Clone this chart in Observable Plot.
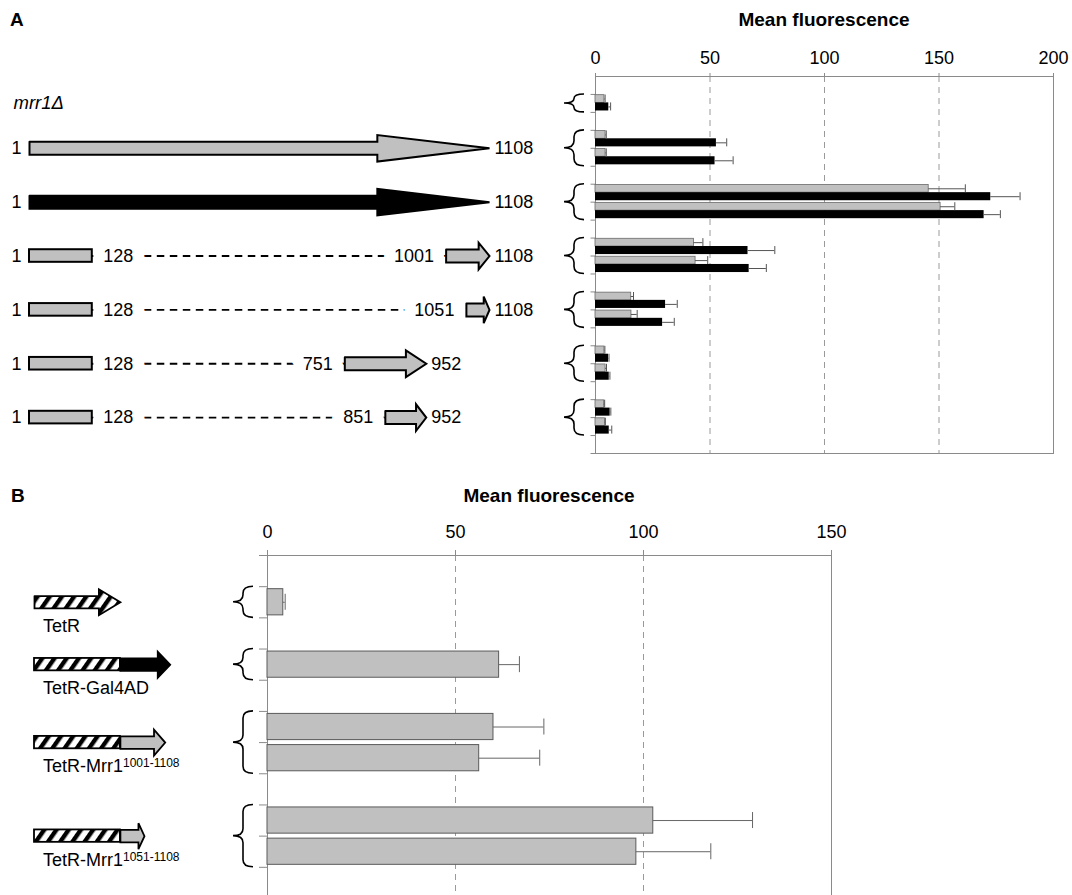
<!DOCTYPE html>
<html>
<head>
<meta charset="utf-8">
<script src="https://cdn.jsdelivr.net/npm/d3@7"></script>
<script src="https://cdn.jsdelivr.net/npm/@observablehq/plot@0.6"></script>
<style>
html, body { margin: 0; padding: 0; background: #fff; }
#fig { position: relative; width: 1072px; height: 895px; overflow: hidden; background: #fff;
  font-family: "Liberation Sans", Arial, Helvetica, sans-serif; }
#fig svg.layer { position: absolute; left: 0; top: 0; }
.lbl { position: absolute; font-weight: bold; font-size: 19px; line-height: 19px; color: #000; white-space: nowrap; }
</style>
</head>
<body>
<div id="fig">
  <svg width="0" height="0" style="position:absolute">
    <defs>
      <pattern id="hatch" patternUnits="userSpaceOnUse" width="10" height="10" patternTransform="rotate(35)">
        <rect width="10" height="10" fill="white"></rect>
        <rect x="0" y="0" width="4.4" height="10" fill="black"></rect>
      </pattern>
    </defs>
  </svg>
  <div class="lbl" style="left:10px;top:10px">A</div>
  <div class="lbl" style="left:595px;top:10px;width:458px;text-align:center">Mean fluorescence</div>
  <div class="lbl" style="left:11px;top:486px">B</div>
  <div class="lbl" style="left:267px;top:486px;width:564px;text-align:center">Mean fluorescence</div>
</div>
<script>
const FONT = '"Liberation Sans", Arial, Helvetica, sans-serif';
const GRAY = "#c0c0c0";

// ================= Panel A data =================
const constructsA = ["mrr1Δ", "Mrr1 1-1108 (grey)", "Mrr1 1-1108 (black)", "1-128 + 1001-1108", "1-128 + 1051-1108", "1-128 + 751-952", "1-128 + 851-952"];
const alleleA = ["none", "grey", "black", "grey", "grey", "grey", "grey"];
const nBoxStartA = [null, null, null, 1, 1, 1, 1];
const nBoxEndA = [null, null, null, 128, 128, 128, 128];
const segStartA = [null, 1, 1, 1001, 1051, 751, 851];
const segEndA = [null, 1108, 1108, 1108, 1108, 952, 952];
// bars: grey series and black series, one or two replicate rows per construct
const greyMeanA = [[3.9], [4.4, 4.4], [145.5, 150.7], [43.0, 43.7], [15.6, 15.7], [3.9, 4.4], [3.8, 4.1]];
const greyErrA = [[0.3], [0.3, 0.3], [16.0, 6.2], [3.9, 5.3], [1.0, 2.5], [0.2, 0.4], [0.2, 0.2]];
const blackMeanA = [[5.8], [52.8, 52.2], [172.6, 169.7], [66.6, 67.1], [30.6, 29.3], [5.7, 6.0], [6.4, 6.0]];
const blackErrA = [[0.8], [4.5, 7.9], [12.8, 7.1], [11.7, 7.5], [5.1, 5.1], [0.2, 0.3], [0.3, 1.1]];
const ticksA = [0, 50, 100, 150, 200];
const gridA = [50, 100, 150];

// ================= Panel B data =================
const nameB = ["TetR", "TetR-Gal4AD", "TetR-Mrr1", "TetR-Mrr1"];
const supB = ["", "", "1001-1108", "1051-1108"];
const fusionKindB = [null, "Gal4AD", "Mrr1", "Mrr1"];
const fusionLenB = [0, 120, 108, 58];   // residues after TetR
const tetRLen = 207;
const meanB = [[4.2], [61.6], [60.1, 56.3], [102.6, 98.1]];
const errB = [[0.5], [5.4], [13.4, 16.1], [26.4, 19.8]];
const ticksB = [0, 50, 100, 150];
const gridB = [50, 100];

// ================= layout helpers =================
function rowLayout(groups) {
  let r = 1;
  const out = groups.map(g => { const o = {start: r, n: g.length, center: r + g.length / 2}; r += g.length + 1; return o; });
  return {groups: out, total: r};
}
function arrowPolygon(id, x1, x2, yc, s, h, headFrac = 0.25) {
  const hx = x2 - headFrac * (x2 - x1);
  return [[x1, yc - s], [hx, yc - s], [hx, yc - h], [x2, yc], [hx, yc + h], [hx, yc + s], [x1, yc + s], [x1, yc - s]]
    .map(([x, y]) => ({id, x, y}));
}
function braces(layout, off) {
  return (index, scales) => {
    const x0 = scales.x(0);
    const g = d3.create("svg:g").attr("fill", "none").attr("stroke", "black").attr("stroke-width", 1.6);
    for (const L of layout.groups) {
      const top = scales.y(L.start), bot = scales.y(L.start + L.n), mid = (top + bot) / 2;
      const hx = x0 - off.hook, vx = x0 - off.vert, px = x0 - off.point;
      const r = Math.min(7, (bot - top) / 4);
      const p = d3.path();
      p.moveTo(hx, top); p.quadraticCurveTo(vx, top, vx, top + r); p.lineTo(vx, mid - r);
      p.quadraticCurveTo(vx, mid, px, mid); p.quadraticCurveTo(vx, mid, vx, mid + r);
      p.lineTo(vx, bot - r); p.quadraticCurveTo(vx, bot, hx, bot);
      g.append("path").attr("d", p.toString());
    }
    return g.node();
  };
}
const styleBase = {background: "transparent", overflow: "visible", fontFamily: FONT, fontSize: "18px", color: "black"};
const fig = document.getElementById("fig");

// ================= Panel A bar chart =================
const LA = rowLayout(greyMeanA);
const A_TOP = 76, A_BOTTOM = 453, A_LEFT = 595, A_RIGHT = 1053, A_H = 895;
const rowPxA = (A_BOTTOM - A_TOP) / LA.total;
const barsA = [];
greyMeanA.forEach((reps, gi) => reps.forEach((v, k) => {
  const row = LA.groups[gi].start + k;
  barsA.push({series: "grey", v, e: greyErrA[gi][k], y1: row + 0.04, y2: row + 0.47});
  barsA.push({series: "black", v: blackMeanA[gi][k], e: blackErrA[gi][k], y1: row + 0.47, y2: row + 0.92});
}));
const capA = 4 / rowPxA;
const mid = d => (d.y1 + d.y2) / 2;

const plotA = Plot.plot({
  width: 1072, height: A_H,
  marginTop: A_TOP, marginBottom: A_H - A_BOTTOM, marginLeft: A_LEFT, marginRight: 1072 - A_RIGHT,
  x: {domain: [0, 200]},
  y: {domain: [0, LA.total], reverse: true},
  style: styleBase,
  marks: [
    Plot.ruleX(gridA, {stroke: "#9a9a9a", strokeDasharray: "6,5", strokeWidth: 1}),
    Plot.frame({stroke: "#8a8a8a"}),
    Plot.axisX({anchor: "top", ticks: ticksA, tickSize: 4, tickPadding: 9, fontSize: 18, stroke: "#8a8a8a", fill: "black", label: null}),
    Plot.axisY({anchor: "left", ticks: d3.range(1, LA.total + 1), tickSize: 4.5, tickFormat: () => "", stroke: "#8a8a8a", label: null}),
    Plot.rect(barsA.filter(d => d.series === "grey"), {x1: 0, x2: "v", y1: "y1", y2: "y2", fill: GRAY, stroke: "#6a6a6a", strokeWidth: 0.8}),
    Plot.rect(barsA.filter(d => d.series === "black"), {x1: 0, x2: "v", y1: "y1", y2: "y2", fill: "black"}),
    Plot.ruleY(barsA, {y: mid, x1: "v", x2: d => d.v + d.e, stroke: "#555", strokeWidth: 1}),
    Plot.ruleX(barsA, {x: d => d.v + d.e, y1: d => mid(d) - capA, y2: d => mid(d) + capA, stroke: "#555", strokeWidth: 1}),
    braces(LA, {hook: 11, vert: 21, point: 31})
  ]
});
plotA.classList.add("layer");
fig.appendChild(plotA);

// ================= Panel A construct diagrams =================
// the figure draws residues 1-128 enlarged; the scale transform reproduces that broken axis
const nTermStretch = 1.22;
const brk = v => v <= 128 ? 1 + (v - 1) * nTermStretch : 1 + 127 * nTermStretch + (v - 128);
const sA = 6.5 / rowPxA, hA = 13.3 / rowPxA, bA = 6.3 / rowPxA;
const rowsA = constructsA.map((c, i) => ({i, c, y: LA.groups[i].center, allele: alleleA[i],
  b1: nBoxStartA[i], b2: nBoxEndA[i], s1: segStartA[i], s2: segEndA[i]}));
const withBox = rowsA.filter(d => d.b1 != null);
const withSeg = rowsA.filter(d => d.s1 != null);
const polysGrey = withSeg.filter(d => d.allele === "grey").flatMap(d => arrowPolygon(d.i, d.s1, d.s2, d.y, sA, hA));
const polysBlack = withSeg.filter(d => d.allele === "black").flatMap(d => arrowPolygon(d.i, d.s1, d.s2, d.y, sA, hA));
const halo = {fontSize: 18, fill: "black", stroke: "white", strokeWidth: 24, strokeLinejoin: "round", paintOrder: "stroke"};

const diagA = Plot.plot({
  width: 1072, height: A_H,
  marginTop: A_TOP, marginBottom: A_H - A_BOTTOM, marginLeft: 0, marginRight: 0,
  x: {transform: brk, domain: [brk(1), brk(1108)], range: [29, 489], axis: null},
  y: {domain: [0, LA.total], reverse: true, axis: null},
  style: styleBase,
  marks: [
    Plot.ruleY(withBox, {x1: "b2", x2: "s1", y: "y", stroke: "black", strokeWidth: 1.8, strokeDasharray: "7.5,5.5"}),
    Plot.text(withBox, {x: "b2", y: "y", text: d => String(d.b2), textAnchor: "start", dx: 11, ...halo}),
    Plot.text(withBox, {x: "s1", y: "y", text: d => String(d.s1), textAnchor: "end", dx: -12, ...halo}),
    Plot.text(withSeg, {x: 1, y: "y", text: () => "1", textAnchor: "end", dx: -8, fontSize: 18, fill: "black"}),
    Plot.text(withSeg, {x: "s2", y: "y", text: d => String(d.s2), textAnchor: "start", dx: 5, fontSize: 18, fill: "black"}),
    Plot.text(rowsA.filter(d => d.allele === "none"), {x: 1, y: "y", text: "c", textAnchor: "start", dx: -16, fontSize: 18.5, fontStyle: "italic", fill: "black"}),
    Plot.rect(withBox, {x1: "b1", x2: "b2", y1: d => d.y - bA, y2: d => d.y + bA, fill: GRAY, stroke: "black", strokeWidth: 2}),
    Plot.line(polysGrey, {x: "x", y: "y", z: "id", fill: GRAY, stroke: "black", strokeWidth: 2, strokeLinejoin: "miter", strokeMiterlimit: 4, curve: "linear"}),
    Plot.line(polysBlack, {x: "x", y: "y", z: "id", fill: "black", stroke: "black", strokeWidth: 2, strokeLinejoin: "miter", strokeMiterlimit: 4, curve: "linear"})
  ]
});
diagA.classList.add("layer");
fig.appendChild(diagA);

// ================= Panel B bar chart =================
const LB = rowLayout(meanB);
const B_TOP = 555, B_H = 900, B_BOTTOM = 898, B_LEFT = 267, B_RIGHT = 831;
const rowPxB = (B_BOTTOM - B_TOP) / LB.total;
const barsB = [];
meanB.forEach((reps, gi) => reps.forEach((v, k) => {
  const row = LB.groups[gi].start + k;
  barsB.push({v, e: errB[gi][k], y1: row + 0.08, y2: row + 0.92});
}));
const capB = 8 / rowPxB;

const plotB = Plot.plot({
  width: 1072, height: B_H,
  marginTop: B_TOP, marginBottom: B_H - B_BOTTOM, marginLeft: B_LEFT, marginRight: 1072 - B_RIGHT,
  x: {domain: [0, 150]},
  y: {domain: [0, LB.total], reverse: true},
  style: styleBase,
  marks: [
    Plot.ruleX(gridB, {stroke: "#9a9a9a", strokeDasharray: "6,5", strokeWidth: 1}),
    Plot.frame({stroke: "#8a8a8a"}),
    Plot.axisX({anchor: "top", ticks: ticksB, tickSize: 6, tickPadding: 12, fontSize: 18, stroke: "#8a8a8a", fill: "black", label: null}),
    Plot.axisY({anchor: "left", ticks: d3.range(0, LB.total), tickSize: 8, tickFormat: () => "", stroke: "#8a8a8a", label: null}),
    Plot.rect(barsB, {x1: 0, x2: "v", y1: "y1", y2: "y2", fill: GRAY, stroke: "#5a5a5a", strokeWidth: 1}),
    Plot.ruleY(barsB, {y: mid, x1: "v", x2: d => d.v + d.e, stroke: "#666", strokeWidth: 1}),
    Plot.ruleX(barsB, {x: d => d.v + d.e, y1: d => mid(d) - capB, y2: d => mid(d) + capB, stroke: "#666", strokeWidth: 1}),
    braces(LB, {hook: 14, vert: 24, point: 34})
  ]
});
plotB.classList.add("layer");
fig.appendChild(plotB);

// ================= Panel B construct diagrams =================
const sB = 6.2 / rowPxB, hB = 13 / rowPxB;
const rowsB = nameB.map((n, i) => ({i, y: LB.groups[i].center, kind: fusionKindB[i], len: fusionLenB[i]}));
const tetOnly = rowsB.filter(d => d.kind == null);
const fused = rowsB.filter(d => d.kind != null);
const polyTet = tetOnly.flatMap(d => arrowPolygon(d.i, 0, tetRLen, d.y, sB, hB));
const polyGal = fused.filter(d => d.kind === "Gal4AD").flatMap(d => arrowPolygon(d.i, tetRLen, tetRLen + d.len, d.y, sB, hB));
const polyMrr = fused.filter(d => d.kind === "Mrr1").flatMap(d => arrowPolygon(d.i, tetRLen, tetRLen + d.len, d.y, sB, hB));
const lineOpts = {x: "x", y: "y", z: "id", stroke: "black", strokeWidth: 1.8, strokeLinejoin: "miter", strokeMiterlimit: 4, curve: "linear"};

const diagB = Plot.plot({
  width: 1072, height: B_H,
  marginTop: B_TOP, marginBottom: B_H - B_BOTTOM, marginLeft: 0, marginRight: 0,
  x: {domain: [0, 400], range: [34, 200], axis: null},
  y: {domain: [0, LB.total], reverse: true, axis: null},
  style: styleBase,
  marks: [
    Plot.line(polyTet, {...lineOpts, fill: "url(#hatch)"}),
    Plot.rect(fused, {x1: 0, x2: tetRLen, y1: d => d.y - sB, y2: d => d.y + sB, fill: "url(#hatch)", stroke: "black", strokeWidth: 1.8}),
    Plot.line(polyGal, {...lineOpts, fill: "black"}),
    Plot.line(polyMrr, {...lineOpts, fill: GRAY}),
    (index, scales) => {
      const g = d3.create("svg:g").attr("font-family", FONT).attr("font-size", 18).attr("fill", "black").attr("text-anchor", "start");
      rowsB.forEach(d => {
        const t = g.append("text").attr("x", scales.x(0) + 9).attr("y", scales.y(d.y) + 30);
        t.append("tspan").text(nameB[d.i]);
        if (supB[d.i]) t.append("tspan").attr("font-size", 12).attr("dy", -5).text(supB[d.i]);
      });
      return g.node();
    }
  ]
});
diagB.classList.add("layer");
fig.appendChild(diagB);
</script>
</body>
</html>
